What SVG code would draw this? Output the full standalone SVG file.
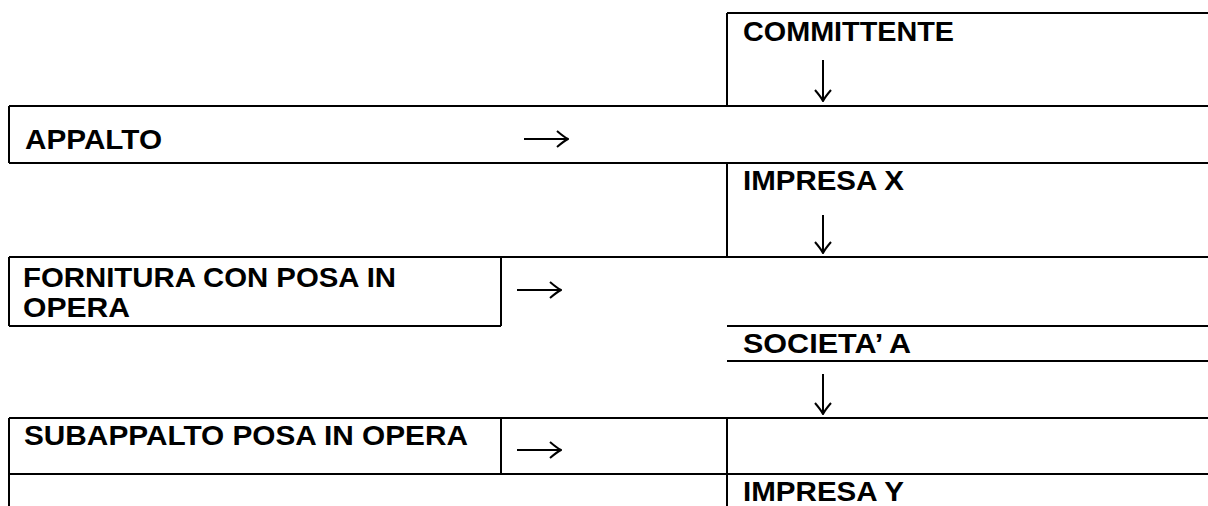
<svg xmlns="http://www.w3.org/2000/svg" width="1208" height="506" viewBox="0 0 1208 506">
  <style>
    .ln { stroke: #000; stroke-width: 2; fill: none; }
    .lbl { font-family: "Liberation Sans", Arial, sans-serif; font-weight: bold; font-size: 28.5px; fill: #000; }
    .arr { stroke: #000; stroke-width: 2; fill: none; marker-end: url(#head); }
  </style>
  <defs>
    <marker id="head" viewBox="0 0 13 18" refX="12" refY="9" markerWidth="13" markerHeight="18" orient="auto" markerUnits="userSpaceOnUse">
      <path d="M1,1 Q8,7 12,9 Q8,11 1,17" stroke="#000" stroke-width="2" fill="none"/>
    </marker>
  </defs>
  <rect width="1208" height="506" fill="#fff"/>

  <g id="committente">
    <path class="ln" d="M727,13 H1208 M727,13 V106"/>
    <text class="lbl" x="743" y="41" textLength="211" lengthAdjust="spacingAndGlyphs">COMMITTENTE</text>
  </g>

  <g id="appalto">
    <path class="ln" d="M9,106 H1208 M9,106 V163 M9,163 H1208"/>
    <text class="lbl" x="25" y="149" textLength="137" lengthAdjust="spacingAndGlyphs">APPALTO</text>
  </g>

  <g id="impresa-x">
    <path class="ln" d="M727,163 V257"/>
    <text class="lbl" x="743" y="190" textLength="161" lengthAdjust="spacingAndGlyphs">IMPRESA X</text>
  </g>

  <g id="fornitura">
    <path class="ln" d="M9,257 H1208 M9,257 V326 M501,257 V326 M9,326 H501"/>
    <text class="lbl" x="23" y="287" textLength="373" lengthAdjust="spacingAndGlyphs">FORNITURA CON POSA IN</text>
    <text class="lbl" x="23" y="317" textLength="107" lengthAdjust="spacingAndGlyphs">OPERA</text>
  </g>

  <g id="societa-a">
    <path class="ln" d="M727,326 H1208 M727,361 H1208"/>
    <text class="lbl" x="743" y="353" textLength="168" lengthAdjust="spacingAndGlyphs">SOCIETA’ A</text>
  </g>

  <g id="subappalto">
    <path class="ln" d="M9,418 H1208 M9,418 V506 M501,418 V474 M727,418 V506 M9,474 H1208"/>
    <text class="lbl" x="24" y="445" textLength="444" lengthAdjust="spacingAndGlyphs">SUBAPPALTO POSA IN OPERA</text>
  </g>

  <g id="impresa-y">
    <text class="lbl" x="743" y="501" textLength="161" lengthAdjust="spacingAndGlyphs">IMPRESA Y</text>
  </g>

  <g id="connectors">
    <path class="arr" d="M823,60 V101"/>
    <path class="arr" d="M524,139 H568"/>
    <path class="arr" d="M823,215 V253"/>
    <path class="arr" d="M517,290 H561"/>
    <path class="arr" d="M823,374 V414"/>
    <path class="arr" d="M517,450 H561"/>
  </g>
</svg>
